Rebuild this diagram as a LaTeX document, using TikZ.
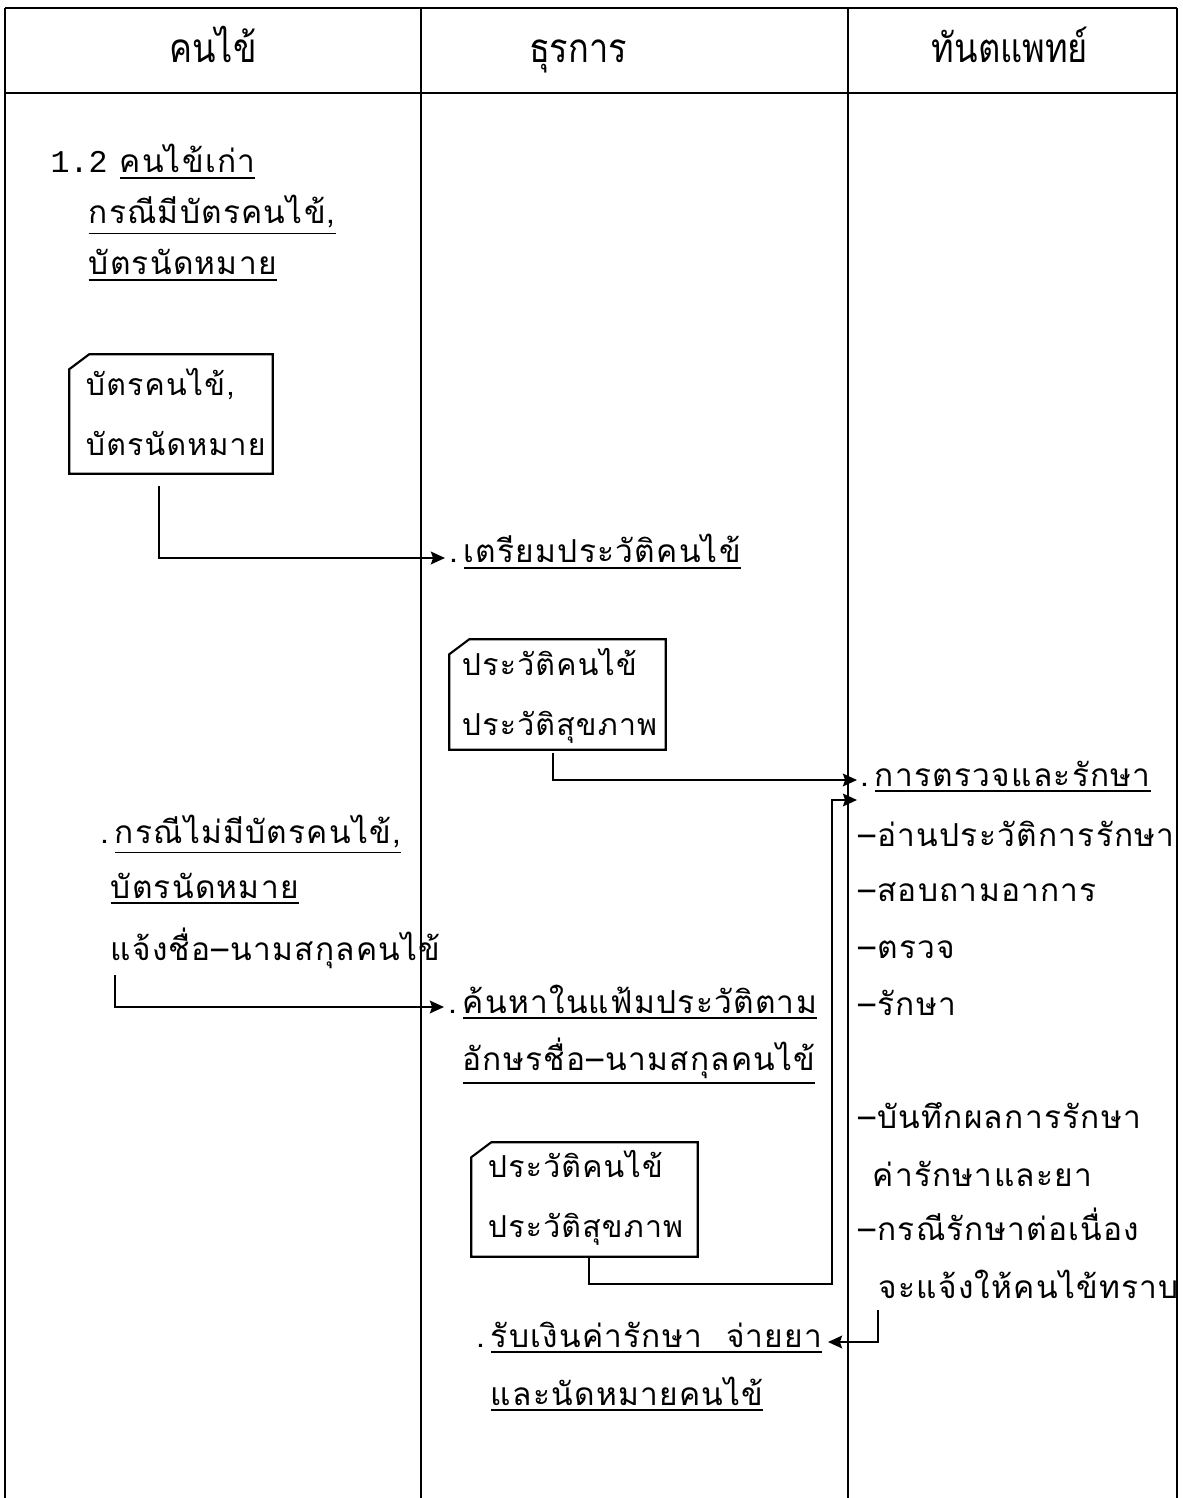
\documentclass[tikz,border=0pt]{standalone}
\usepackage{fontspec}
\usepackage{tikz}
\usetikzlibrary{calc, arrows.meta}
\newfontfamily\thai[Script=Thai,LetterSpace=4]{Loma}
\newfontfamily\thaihead[Script=Thai,FakeStretch=0.85]{Loma}
\newfontfamily\typew{Liberation Mono}

\begin{document}
\begin{tikzpicture}[x=0.01cm, y=-0.01cm,
		txt/.style = {anchor = base west, inner sep = 0, font = \thai\fontsize{9}{11}\selectfont},
		cardtxt/.style = {txt, font = \thai\fontsize{8.6}{11}\selectfont},
		head/.style = {anchor = base, inner sep = 0, font = \thaihead\fontsize{11.5}{14}\selectfont},
		arr/.style = {-{Stealth[length = 4pt, width = 3.6pt, inset = 0.6pt]}, line width = 0.6pt}]
		\def\top{8};
		\def\sep{93};
		\def\bot{1498};
		
		\useasboundingbox (0,0) rectangle (1182,\bot);
		
		\draw [line width = 0.8pt] (5,\top) -- (1177,\top);
		\draw [line width = 0.8pt] (5,\sep) -- (1177,\sep);
		\foreach \x in {5, 421, 848, 1177}
			\draw [line width = 0.7pt] (\x,\top) -- (\x,\bot);
		
		\node [head] (patient head) at (213,63) {คนไข้};
		\node [head] (clerk head) at (578,63) {ธุรการ};
		\node [head] (dentist head) at (1010,63) {ทันตแพทย์};
		
		\node [txt] (l1) at (50,173) {{\typew 1.2} \underline{คนไข้เก่า}};
		\node [txt] (l2) at (88,224) {\underline{กรณีมีบัตรคนไข้,}};
		\node [txt] (l3) at (88,275) {\underline{บัตรนัดหมาย}};
		
		\node [inner sep = 0, minimum width = 2.02cm, minimum height = 1.18cm] (card1) at (171,414) {};
		\node [cardtxt] (card1 a) at ($ (card1.north west) + (16,41) $) {บัตรคนไข้,};
		\node [cardtxt] (card1 b) at ($ (card1.north west) + (16,101) $) {บัตรนัดหมาย};
		
		\node [txt] (prep) at (449,563) {.\,\underline{เตรียมประวัติคนไข้}};
		
		\node [inner sep = 0, minimum width = 2.15cm, minimum height = 1.09cm] (card2) at (557.5,694.5) {};
		\node [cardtxt] (card2 a) at ($ (card2.north west) + (12,36) $) {ประวัติคนไข้};
		\node [cardtxt] (card2 b) at ($ (card2.north west) + (12,96) $) {ประวัติสุขภาพ};
		
		\node [txt] (exam) at (860,786) {.\,\underline{การตรวจและรักษา}};
		\node [txt] (r1) at (858,846) {–อ่านประวัติการรักษา};
		\node [txt] (r2) at (858,901) {–สอบถามอาการ};
		\node [txt] (r3) at (858,958) {–ตรวจ};
		\node [txt] (r4) at (858,1015) {–รักษา};
		\node [txt] (r5) at (858,1128) {–บันทึกผลการรักษา};
		\node [txt] (r6) at (872,1186) {ค่ารักษาและยา};
		\node [txt] (r7) at (858,1240) {–กรณีรักษาต่อเนื่อง};
		\node [txt] (r8) at (878,1298) {จะแจ้งให้คนไข้ทราบ};
		
		\node [txt] (l4) at (100,843) {.\,\underline{กรณีไม่มีบัตรคนไข้,}};
		\node [txt] (l5) at (110,898) {\underline{บัตรนัดหมาย}};
		\node [txt] (l6) at (110,960) {แจ้งชื่อ–นามสกุลคนไข้};
		
		\node [txt] (search a) at (448,1013) {.\,\underline{ค้นหาในแฟ้มประวัติตาม}};
		\node [txt] (search b) at (462,1070) {\underline{อักษรชื่อ–นามสกุลคนไข้}};
		
		\node [inner sep = 0, minimum width = 2.25cm, minimum height = 1.13cm] (card3) at (584.5,1199.5) {};
		\node [cardtxt] (card3 a) at ($ (card3.north west) + (16,35) $) {ประวัติคนไข้};
		\node [cardtxt] (card3 b) at ($ (card3.north west) + (16,95) $) {ประวัติสุขภาพ};
		
		\node [txt] (pay a) at (476,1347) {.\,\underline{รับเงินค่ารักษา\ \ จ่ายยา}};
		\node [txt] (pay b) at (490,1405) {\underline{และนัดหมายคนไข้}};
		
		\foreach \c in {card1, card2, card3}
			\draw [line width = 0.6pt] ($ (\c.north west) + (20,0) $) -- (\c.north east) -- (\c.south east)
				-- (\c.south west) -- ($ (\c.north west) + (0,15) $) -- cycle;
		
		\draw [arr] ($ (card1.south west) + (90,12) $) |- ($ (prep.base west) + (-4,-5) $);
		\draw [arr] ($ (card2.south west) + (104,3) $) |- ($ (exam.base west) + (-3,-6) $);
		\draw [arr] ($ (l6.base west) + (5,15) $) |- ($ (search a.base west) + (-4,-6) $);
		\draw [arr] ($ (card3.south west) + (118,0) $) |- ($ (card3.south west) + (361,27) $)
			|- ($ (exam.base west) + (-3,14) $);
		\draw [arr] ($ (r8.base west) + (0,12) $) |- ($ (pay a.base east) + (5,-5) $);
	\end{tikzpicture}
\end{document}
